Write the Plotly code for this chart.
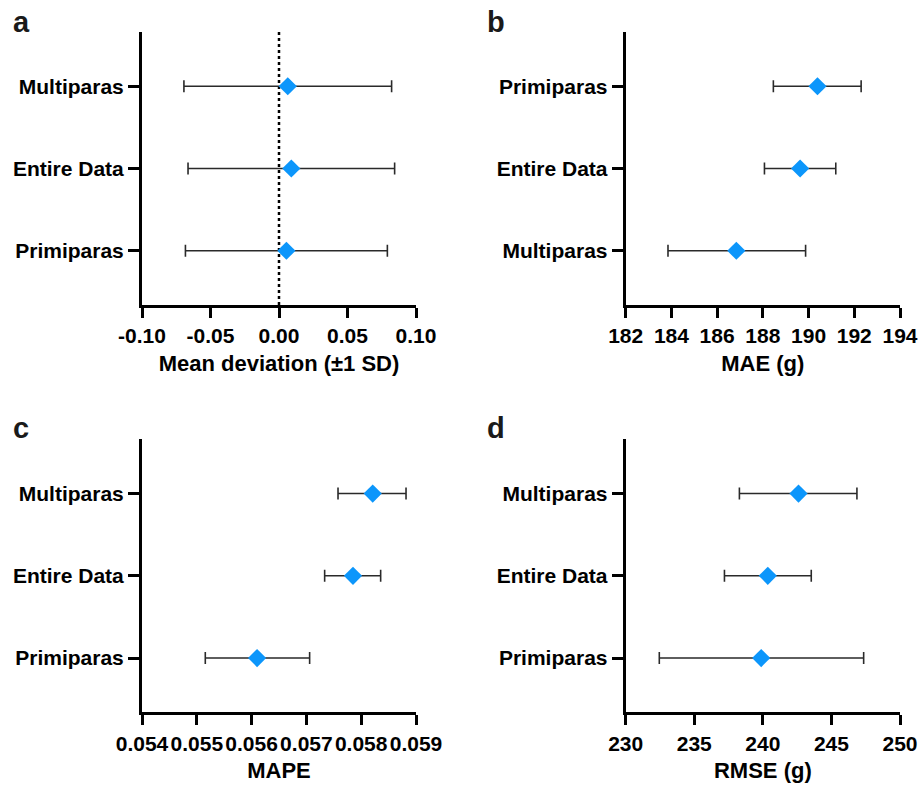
import plotly.graph_objects as go

# ---------------- data ----------------
# Panel a: Mean deviation (±1 SD)
cats_a = ["Primiparas", "Entire Data", "Multiparas"]
mean_a = [0.0054, 0.0090, 0.0064]
sd_a = [0.0737, 0.0754, 0.0758]

# Panel b: MAE (g) with CI
cats_b = ["Multiparas", "Entire Data", "Primiparas"]
mae_b = [186.84, 189.63, 190.39]
low_b = [183.85, 188.07, 188.46]
high_b = [189.87, 191.19, 192.30]

# Panel c: MAPE with CI
cats_c = ["Primiparas", "Entire Data", "Multiparas"]
mape_c = [0.05610, 0.05785, 0.05821]
low_c = [0.055155, 0.057333, 0.057577]
high_c = [0.057059, 0.058355, 0.058818]

# Panel d: RMSE (g) with CI
cats_d = ["Primiparas", "Entire Data", "Multiparas"]
rmse_d = [239.88, 240.36, 242.60]
low_d = [232.45, 237.20, 238.29]
high_d = [247.35, 243.53, 246.86]

# tick labels
ticks_a = [-0.10, -0.05, 0.00, 0.05, 0.10]
ticktext_a = ["-0.10", "-0.05", "0.00", "0.05", "0.10"]
ticks_b = [182, 184, 186, 188, 190, 192, 194]
ticks_c = [0.054, 0.055, 0.056, 0.057, 0.058, 0.059]
ticktext_c = ["0.054", "0.055", "0.056", "0.057", "0.058", "0.059"]
ticks_d = [230, 235, 240, 245, 250]

FONT = "Liberation Sans, Arial, sans-serif"
BLUE = "#0C96FB"
W, H = 921, 789

fig = go.Figure()


def add_panel(idx, cats, vals, lo, hi):
    suffix = "" if idx == 1 else str(idx)
    fig.add_trace(go.Scatter(
        x=vals, y=cats, mode="markers",
        xaxis="x" + suffix, yaxis="y" + suffix,
        marker=dict(symbol="diamond", size=14, color=BLUE, line=dict(width=0)),
        error_x=dict(type="data", symmetric=False,
                     array=[h - v for h, v in zip(hi, vals)],
                     arrayminus=[v - l for v, l in zip(vals, lo)],
                     color="#2a2a2a", thickness=1.6, width=6),
        showlegend=False, cliponaxis=False,
    ))


add_panel(1, cats_a, mean_a,
          [m - s for m, s in zip(mean_a, sd_a)],
          [m + s for m, s in zip(mean_a, sd_a)])
add_panel(2, cats_b, mae_b, low_b, high_b)
add_panel(3, cats_c, mape_c, low_c, high_c)
add_panel(4, cats_d, rmse_d, low_d, high_d)

# domains (paper)
xd_left = [142 / W, 416 / W]
xd_right = [625.7 / W, 900 / W]
yd_top = [1 - 305 / H, 1 - 32 / H]
yd_bot = [1 - 712.3 / H, 1 - 439.3 / H]

tickfont = dict(family=FONT, size=21, color="black")
titlefont = dict(family=FONT, size=22, color="black")


def xaxis(domain, anchor, rng, tickvals, ticktext, title):
    return dict(domain=domain, anchor=anchor, range=rng,
                tickvals=tickvals, ticktext=ticktext, tickangle=0,
                automargin=False,
                showline=True, linewidth=3, linecolor="black",
                ticks="outside", ticklen=10, tickwidth=3, tickcolor="black",
                showgrid=False, zeroline=False, tickfont=tickfont,
                title=dict(text="<b>" + title + "</b>", font=titlefont, standoff=10))


def yaxis(domain, anchor, cats):
    return dict(domain=domain, anchor=anchor, type="category",
                categoryorder="array", categoryarray=cats,
                range=[-0.66, 2.66], automargin=False,
                tickvals=cats, ticktext=["<b>" + c + "</b>" for c in cats],
                showline=True, linewidth=3, linecolor="black",
                ticks="outside", ticklen=11, tickwidth=3, tickcolor="black",
                showgrid=False, zeroline=False, tickfont=tickfont)


fig.update_layout(
    template="none",
    width=W, height=H,
    margin=dict(l=0, r=0, t=0, b=0, autoexpand=False),
    paper_bgcolor="white", plot_bgcolor="white",
    font=dict(family=FONT, color="black"),
    xaxis=xaxis(xd_left, "y", [-0.10, 0.10], ticks_a,
                ["<b>" + t + "</b>" for t in ticktext_a], "Mean deviation (±1 SD)"),
    yaxis=yaxis(yd_top, "x", cats_a),
    xaxis2=xaxis(xd_right, "y2", [182, 194], ticks_b,
                 ["<b>" + str(t) + "</b>" for t in ticks_b], "MAE (g)"),
    yaxis2=yaxis(yd_top, "x2", cats_b),
    xaxis3=xaxis(xd_left, "y3", [0.054, 0.059], ticks_c,
                 ["<b>" + t + "</b>" for t in ticktext_c], "MAPE"),
    yaxis3=yaxis(yd_bot, "x3", cats_c),
    xaxis4=xaxis(xd_right, "y4", [230, 250], ticks_d,
                 ["<b>" + str(t) + "</b>" for t in ticks_d], "RMSE (g)"),
    yaxis4=yaxis(yd_bot, "x4", cats_d),
)

# dotted zero line in panel a
fig.add_shape(type="line", xref="x", yref="y domain", x0=0, x1=0, y0=0, y1=1,
              line=dict(color="black", width=2.5, dash="dot"), layer="below")

# panel letters
letters = [("a", 11 / W, 1 - 22 / H), ("b", 485 / W, 1 - 22 / H),
           ("c", 11 / W, 1 - 428 / H), ("d", 485 / W, 1 - 428 / H)]
for txt, x, y in letters:
    fig.add_annotation(text="<b>" + txt + "</b>", x=x, y=y, xref="paper", yref="paper",
                       xanchor="left", yanchor="middle", showarrow=False,
                       font=dict(family=FONT, size=29, color="#1a1a1a"))

fig.write_html(
    "out.html",
    config={"displayModeBar": False},
    post_script="document.body.style.margin='0';document.body.style.overflow='hidden';",
)
